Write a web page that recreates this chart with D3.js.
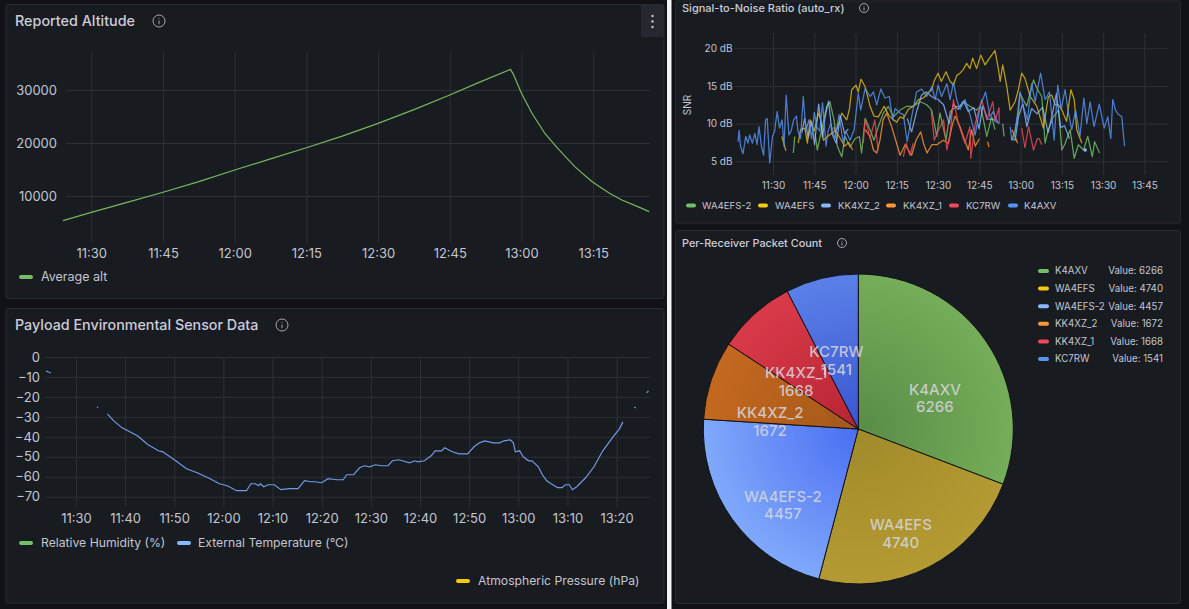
<!DOCTYPE html>
<html><head><meta charset="utf-8">
<script src="https://cdn.jsdelivr.net/npm/d3@7"></script>
<style>
html,body{margin:0;padding:0;background:#111217;overflow:hidden}
svg{display:block;font-family:Inter,"Noto Sans",sans-serif}
</style></head><body><svg id="c" width="1189" height="609"></svg>
<script>
// Minutes after 11:30 are used as the time coordinate of every series.
const altitudeTimes = [-5.9,0,7.5,15,22.5,30,37.5,45,52.5,60,67.5,75,81,87.7,88.3,90,92.2,94.9,97.6,101.2,104.8,108.4,111,114.6,116.7];
const altitudeValues = [5350,6900,8800,10700,12700,14900,17000,19100,21300,23700,26300,29050,31400,33900,33000,29400,25600,21800,19000,15500,12700,10500,9250,7900,7050];

const temperatureTimes = [-6.1,-5.1,null,4.3,4.5,null,6.4,7.7,9.4,12.5,14.7,16.8,17.7,20.3,22.5,24.7,27.3,29.2,30.8,32.7,34.7,35.6,36.5,37.2,37.5,38.2,39.1,40.4,41.7,43.5,45.2,46.5,47.8,48.7,50,51.3,53.1,54.4,55.1,56.5,57.7,58.7,59.8,60.9,62.2,63.5,64.4,65.7,67.9,69,69.6,70.9,72.3,73.1,74.4,75,76.6,77.9,79.7,81,82.1,83.2,84.9,86.2,87.1,88.4,89,89.4,90.3,91,92.1,92.8,94.1,94.9,95.8,96.7,98,98.9,99.6,100.4,101,101.9,103.7,105.4,107.2,109.3,110.6,111.3,null,113.6,113.9,null,116.1,116.5];
const temperatureValues = [-7,-8,null,-25,-25.4,null,-28.5,-32,-35.5,-39.5,-44,-47,-47.5,-52,-56,-58,-61,-63.5,-64.5,-67,-67,-63.5,-63.5,-64.5,-63.5,-65,-64,-64,-66.5,-66,-66,-62,-62.5,-62.5,-63,-61,-61.5,-61.5,-59,-59,-55.5,-54.5,-55,-54,-54.5,-54.5,-52,-51.5,-53,-52,-52.5,-52,-49.5,-47,-47,-45.5,-47.5,-48.5,-48.5,-45,-43,-42,-43,-43,-42,-41.5,-43,-47.5,-47,-50,-52,-52,-55,-59,-62,-63.5,-65.5,-65.5,-64,-64,-66.5,-65,-60.5,-55,-47,-40,-36,-32.5,null,-25,-25.5,null,-18,-17];

const snrNames = ["WA4EFS-2","WA4EFS","KK4XZ_2","KK4XZ_1","KC7RW","K4AXV"];
const snrColors = ["#73BF69","#E0BC14","#8AB8FF","#FF9830","#F2495C","#5794F2"];
const snrLegendColors = ["#73BF69","#F2CC0C","#8AB8FF","#FF9830","#F2495C","#5794F2"];
const wa4efs2Snr = [[7.4,6.1],[7.9,8.3],null,[15.3,8.7],[16.1,6.5],[17.7,9.2],[19.5,12.3],[20.7,12.9],[22.2,10.5],[23.4,7],[25,5.6],[26.2,8.3],[28,6.9],[29.8,8],[31.4,8.3],[32.2,6.1],[33.5,10.7],[35.3,9.2],[36.7,7.8],[38.3,9.6],[40.1,11.4],[41.9,12.3],[43.8,10.9],[46.2,11.8],[48.6,12.3],[51,12.3],[53.5,12.9],[55.9,12.5],[57.7,11.8],[59.5,8.3],[60.7,11.4],[62.9,7.8],[64.4,11.6],[66.8,12.3],[68.1,12.3],[69.2,12.9],[71.6,12.3],[74,11.8],[75.5,12.3],[77.7,8.3],[79.5,10.9],[80.7,9.2],null,[83.5,10],[84,8.3],null,[86.8,7.8],[88,9.2],[89.2,11.4],[89.8,14],[92.2,12.3],[94.7,15.8],[95.9,14.7],[97.7,13.6],[98.9,7.4],[100.1,9.2],[101.9,10.9],[103.8,11.8],[105,6.5],[106.2,7.4],[108,9.2],[109.5,5.4],[111,7.2],[112.9,6.5],[114.4,8.3],[115.3,6.9],[116.1,5.6],[116.9,7.6],[118.7,6.1]];
const wa4efsSnr = [[3.2,8.3],[4.7,6.4],null,[9.2,7.4],[10,9.2],[11.6,9.4],[12.5,7.4],[13.5,10.5],[15,9],[16.5,11.4],[17.4,10.5],[18.3,7.8],[20.5,8.5],[23.2,9.2],[25,11.4],[26.8,10.5],[27.8,12],[28.6,14.5],[30.2,15.1],[31,14.2],[32,15.9],[33.5,14.9],[35.3,12.3],[36.7,11],[38.3,10.9],[40.4,12.3],[42.3,11],[43.8,10.5],[45,10.2],[46.2,10.9],[47.4,10.7],[49.2,11.9],[51,12.3],[52.9,13.2],[54.7,13.4],[55.9,13.9],[57.7,14.5],[58.6,15.7],[60,16.7],[61.2,15.6],[62.9,16.9],[64.4,15.6],[65.6,15.1],[66.8,16.4],[68,16.7],[69.2,17.2],[70.4,18],[71.6,17.3],[72.6,18.7],[74,17.3],[75.5,19.1],[77.1,17.8],[78.7,18.7],[80.7,19.7],[82,17.1],[82.6,15.6],[83.5,17.8],[85,14.9],[86.2,11.8],[88,12.9],[89.2,14.5],[90.4,16.7],[91.6,16],[93.5,13.6],[95.9,12.3],[98.3,9.4],[100.1,13.6],[101.3,13.8],[102.6,12.5],[103.8,12.5],[105,11.8],[106.7,10.3],[108.3,14.5],[109.5,13.2],[110.4,9.2],[112.3,7.4]];
const kk4xz2Snr = [[10.5,8.8],[11.5,10.7],[12.8,8.1],[14,10.3],[15.1,7.2],[16.6,12.6],[18,8.2],[19,11],[20.2,13],[21.5,8.6],[23,7.4],[24.5,11],[26,8.7],[27.4,9.3],null,[48.8,10.7],[50.4,8.9],[52.2,11.6],[54,13.8],[55.7,14.2],[58,13.5],[60,13.2],[62,12.5],[64,10],[65.6,12.6],[67.3,11.9],[69.2,13],[71,11.6],[73,12.1],[74.9,9.3],[76.3,12.4],[78,10.6],[80,10.6],[81.6,10.1],null,[86.5,8.1],[88,7.8],[89.3,11],[90.8,12.6],[92.3,9.6],[94,12],[96,11.3],[98,12.2],[100,8.8],[101.5,11.2],[103,14],[104.6,9.5],[106,9.7],[107.8,8],null,[113.3,6.5],[113.5,6.5]];
const kk4xz1Snr = [[22,9.5],[24.5,8],[26,7],[27.5,7.5],[29,6.5],null,[33.5,9.2],[35.3,8.3],[36.5,6.5],[37.7,6.1],[38.9,7.8],[40,10.5],[41.3,11.4],[43.1,9.6],[44.6,7.8],[46.2,5.8],[48,7.2],[50.4,5.8],[52,7.8],[53.7,8.9],[54.7,7.4],[56,6.1],[57.7,7.2],[59.5,7.2],[61.9,7.8],[63.8,7.4],[65.2,9.9],[66.2,11],[68,9.6],[69.2,8.3],[71,6.5],[72.2,9.2],[73.5,7],[75,8],null,[78,7.6],[78.5,6.9],null,[86.8,9.2],[88,8.3],[88.9,7.4]];
const kc7rwSnr = [[32.8,7.4],[33.5,10.5],[34.3,9.6],[35.3,8],[37,10.5],[38.2,6.4],null,[47.4,5.6],[48.4,7.4],[49.8,5.8],[51,7.4],null,[57.5,11.8],[58.6,7.8],[60.2,9.2],[62,10.5],[63.2,6.5],[64.5,9],[65.6,13.2],[67.4,10],[69.8,7.4],[71.6,9.6],[71.9,5.4],[73.5,10],[75.9,13.2],[77.7,10.5],[79.9,12.9],[80.7,10.4],[82.2,12.1],[82.2,10],null,[90.4,9.4],[91.6,6.8],[92.9,9.6],[94.7,6.5],[96.1,8],[96.8,8],[97.7,7.2]];
const k4axvSnr = [[-12.7,7.6],[-12.3,9.1],[-11.8,7],[-10.9,6],[-9.9,8.3],[-9.1,7.4],[-8.5,8.5],[-7.5,7.4],[-6.6,8.7],[-5.8,7.2],[-5.1,9.6],[-4.2,7],[-3.4,5.8],[-2.7,10.5],[-2.1,10.7],[-1.2,4.8],[-0.2,8.3],[0.6,9],[1.5,11.6],[2.4,9.4],[3.3,10.5],[4,7],[4.8,13.8],[5.8,8.5],[6.6,9],[7.5,10.5],[8.5,11],[9.1,9],[10,8],[11,13.6],[12,9],[13,10.5],[14,8],[15,11.5],[16,9.5],[17,9],[18,12.8],[19.3,7],[20,9],[21,10],[22.5,8],[24,11.2],[25.5,7.5],[26.5,9],[28,7.8],[29.5,9.2],[31,14],[31.9,11.8],[33.5,14.7],[35.3,13.6],[36.5,14.2],[37.7,12.5],[39.2,14.6],[40.7,13.4],[42.3,13.6],[43.5,10.5],[44.4,12],[46.2,11.4],[47.4,11.2],[48.8,7.6],[50.4,10.9],[52.2,14.2],[54,14.6],[55.9,13.6],[57.7,14.9],[59,13.2],[60,15.1],[61.3,13.6],[63.2,15.3],[64.4,13.2],[65.6,15.5],[66.8,13.2],[68,11.9],[69.8,13.2],[71.6,11.2],[73.5,8.5],[75.3,12.3],[77.3,14.2],[78.9,10.9],[80,11.6],[81.3,10.5],[82.1,10],null,[86.2,9.6],[86.8,7.8],[88,8.7],[89.8,14.2],[91,12.3],[92.5,10.5],[94,15.3],[95.3,12.9],[97.3,16.7],[98.9,13.2],[100.5,14.2],[102.2,7.8],[103.5,15.1],[104.8,12],[106.2,14.5],[107.4,11.4],[108.6,9.2],[110,11.8],[111.6,8.3],[113,13.4],[114.1,10],[115.3,12.9],[116.7,9.6],[118.6,12.6],[120.4,9.4],[121.7,10.9],[122.8,8],[123.5,13.2],[124.5,11.8],[125.6,11.2],[126.8,10.9],[127.8,7]];
const snrSeries = [wa4efs2Snr,wa4efsSnr,kk4xz2Snr,kk4xz1Snr,kc7rwSnr,k4axvSnr];

const pieNames = ["K4AXV","WA4EFS","WA4EFS-2","KK4XZ_2","KK4XZ_1","KC7RW"];
const pieValues = [6266,4740,4457,1672,1668,1541];
const pieLabels = ["K4AXV","WA4EFS","WA4EFS-2","KK4XZ_2","KK4XZ_1","KC7RW"];
const legendColors = ["#73BF69","#F2CC0C","#8AB8FF","#FF9830","#F2495C","#5794F2"];
const pieInner = ["#598c47","#a08a2a","#4a6ef2","#a4581a","#b82432","#3a56cf"];
const pieOuter = ["#75ad59","#b49a32","#7fa9fb","#c4681f","#d93a4a","#5a80e8"];

const svg = d3.select("#c");
const textCol = "#c4c5d2", gridCol = "#2e3035";
const clock = m => new Date(2024,0,1,11,30+Math.floor(m),(m-Math.floor(m))*60);
const fmt = d3.timeFormat("%H:%M");

svg.append("rect").attr("x",667).attr("y",0).attr("width",4.5).attr("height",609).attr("fill","#f4f4f4");
[[6,4.5,658,294],[6,308.5,658,294.5],[675.5,1,505,222],[675.5,230.5,505,373]].forEach(p=>{
  svg.append("rect").attr("x",p[0]).attr("y",p[1]).attr("width",p[2]).attr("height",p[3]).attr("rx",2)
     .attr("fill","#181b1f").attr("stroke","#2a2c32");
});

function title(txt,x,y,size,ix){
  svg.append("text").attr("x",x).attr("y",y).attr("dy","0.35em").attr("font-size",size).attr("font-weight",500).attr("fill","#ccccdc").text(txt);
  const r=size>12?6:4.5, g=svg.append("g").attr("transform",`translate(${ix},${y})`).attr("stroke","#a5a7b2").attr("fill","none");
  g.append("circle").attr("r",r);
  g.append("line").attr("y1",-0.5).attr("y2",r*0.55);
  g.append("line").attr("y1",-r*0.5).attr("y2",-r*0.5+0.8);
}
title("Reported Altitude",15,21,14.35,159);
title("Payload Environmental Sensor Data",15,325,14.3,282);
title("Signal-to-Noise Ratio (auto_rx)",682,8,11,864);
title("Per-Receiver Packet Count",682,243,10.9,842);

svg.append("rect").attr("x",641).attr("y",5).attr("width",23).attr("height",32).attr("fill","#25282e");
[16,21.5,27].forEach(y=>svg.append("circle").attr("cx",652.5).attr("cy",y).attr("r",1.2).attr("fill","#c4c5d2"));

function legend(items,y,size,w){
  items.forEach(it=>{
    svg.append("rect").attr("x",it[0]).attr("y",y-2).attr("width",w).attr("height",4).attr("rx",2).attr("fill",it[2]);
    svg.append("text").attr("x",it[1]).attr("y",y).attr("dy","0.35em").attr("font-size",size).attr("fill",textCol).text(it[3]);
  });
}

function axes(x,y,xTicks,yTicks,yFmt,bottom,left,right,top,size,pad,ypad){
  const gx=svg.append("g").attr("transform",`translate(0,${bottom})`)
    .call(d3.axisBottom(x).tickValues(xTicks).tickFormat(fmt).tickSize(top-bottom).tickPadding(pad));
  const gy=svg.append("g").attr("transform",`translate(${left},0)`)
    .call(d3.axisLeft(y).tickValues(yTicks).tickFormat(yFmt).tickSize(left-right).tickPadding(ypad));
  [gx,gy].forEach(g=>{
    g.select(".domain").remove();
    g.selectAll("line").attr("stroke",gridCol);
    g.selectAll("text").attr("fill",textCol).attr("font-size",size).attr("font-family","Inter");
  });
}

// Altitude
{
  const x=d3.scaleTime().domain([clock(-5.5),clock(116.8)]).range([65,649.5]);
  const y=d3.scaleLinear().domain([10000,30000]).range([196,90]);
  axes(x,y,d3.range(0,106,15).map(clock),[10000,20000,30000],d3.format("d"),243,66,650,52,13,5.5,9);
  const line=d3.line().x((d,i)=>x(clock(altitudeTimes[i]))).y(d=>y(d));
  svg.append("path").attr("d",line(altitudeValues)).attr("fill","none").attr("stroke","#78b562").attr("stroke-width",1.2);
  legend([[19,41,"#73BF69","Average alt"]],277,12.5,14);
}
// Environment
{
  const x=d3.scaleTime().domain([clock(-6.3),clock(116.7)]).range([45,649.5]);
  const y=d3.scaleLinear().domain([-70,0]).range([496.7,357]);
  axes(x,y,d3.range(0,111,10).map(clock),d3.range(-70,1,10),d3.format("d"),507,45,650,357,13,7,5);
  const line=d3.line().defined(d=>d!==null).x((d,i)=>x(clock(temperatureTimes[i]))).y(d=>y(d));
  svg.append("path").attr("d",line(temperatureValues)).attr("fill","none").attr("stroke","#7299e4").attr("stroke-width",1.2);
  legend([[19,41,"#73BF69","Relative Humidity (%)"],[177,198,"#8AB8FF","External Temperature (°C)"]],543,12.2,14);
  legend([[456,478,"#F2CC0C","Atmospheric Pressure (hPa)"]],581,12.2,14);
}
// SNR
{
  const x=d3.scaleTime().domain([clock(-13.8),clock(143.6)]).range([735,1168]);
  const y=d3.scaleLinear().domain([5,20]).range([161.3,48.3]);
  axes(x,y,d3.range(0,136,15).map(clock),[5,10,15,20],d=>d+" dB",175,735,1168,33,10,7,2.5);
  svg.append("text").attr("transform","translate(687,105) rotate(-90)").attr("text-anchor","middle").attr("dy","0.35em")
     .attr("font-size",10).attr("fill",textCol).text("SNR");
  const line=d3.line().defined(d=>d!==null).x(d=>x(clock(d[0]))).y(d=>y(d[1]));
  snrSeries.forEach((s,i)=>svg.append("path").attr("d",line(s)).attr("fill","none").attr("stroke",snrColors[i]).attr("stroke-width",1.25).attr("opacity",0.82).attr("stroke-linejoin","round"));
  const dot=kk4xz2Snr[kk4xz2Snr.length-1];
  svg.append("circle").attr("cx",x(clock(dot[0]))).attr("cy",y(dot[1])).attr("r",1.7).attr("fill",snrColors[2]);
  const lx=[[686,702],[758,775],[821,838],[886,903],[949,966],[1008,1024]];
  legend(snrNames.map((n,i)=>[lx[i][0],lx[i][1],snrLegendColors[i],n]),205.5,9.6,10);
}
// Pie
{
  const cx=858.3, cy=429, R=155;
  const g=svg.append("g").attr("transform",`translate(${cx},${cy})`);
  const defs=svg.append("defs");
  pieNames.forEach((n,i)=>{
    const gr=defs.append("radialGradient").attr("id","pg"+i).attr("gradientUnits","userSpaceOnUse").attr("cx",0).attr("cy",0).attr("r",R);
    gr.append("stop").attr("offset","0%").attr("stop-color",pieInner[i]);
    gr.append("stop").attr("offset","100%").attr("stop-color",pieOuter[i]);
  });
  const arcs=d3.pie().sort(null)(pieValues);
  const arc=d3.arc().innerRadius(0).outerRadius(R);
  g.selectAll("path").data(arcs).join("path").attr("d",arc).attr("fill",(d,i)=>`url(#pg${i})`).attr("stroke","#111217").attr("stroke-width",1);
  const lab=d3.arc().innerRadius(93).outerRadius(93);
  arcs.forEach((d,i)=>{
    const c=lab.centroid(d);
    const t=g.append("text").attr("text-anchor","middle").attr("font-size",15).attr("font-weight",500).attr("fill","#d6d6dc").attr("fill-opacity",0.85);
    t.append("tspan").attr("x",c[0]).attr("y",c[1]+18.5).text(pieLabels[i]);
    t.append("tspan").attr("x",c[0]).attr("y",c[1]+36).text(pieValues[i]);
  });
  pieNames.forEach((n,i)=>{
    const y=271+i*17.6;
    svg.append("rect").attr("x",1038).attr("y",y-2).attr("width",11).attr("height",4).attr("rx",2).attr("fill",legendColors[i]);
    svg.append("text").attr("x",1055).attr("y",y).attr("dy","0.35em").attr("font-size",9.7).attr("fill",textCol).text(n);
    svg.append("text").attr("x",1163).attr("y",y).attr("dy","0.35em").attr("text-anchor","end").attr("font-size",9.7).attr("fill",textCol).text("Value: "+pieValues[i]);
  });
}
</script></body></html>
